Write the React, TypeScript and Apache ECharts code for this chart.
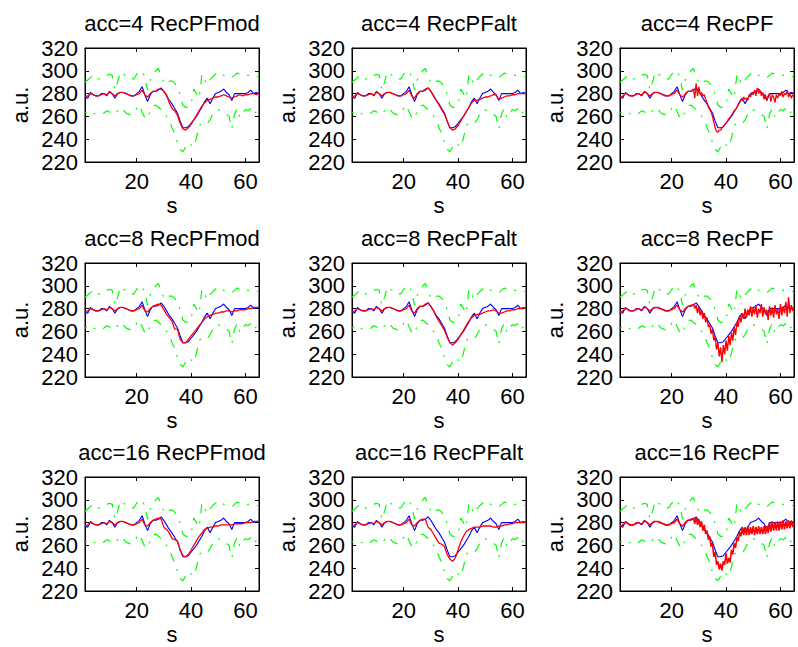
import React, { useEffect, useRef } from "react";
import * as echarts from "echarts";

// ---------- data ----------
const X_MIN = 1;
const X_MAX = 65;
const X_TICKS = [20, 40, 60];
const Y_MIN = 220;
const Y_MAX = 320;
const Y_STEP = 20;

const titles = [
  "acc=4 RecPFmod", "acc=4 RecPFalt", "acc=4 RecPF",
  "acc=8 RecPFmod", "acc=8 RecPFalt", "acc=8 RecPF",
  "acc=16 RecPFmod", "acc=16 RecPFalt", "acc=16 RecPF",
];

// reference (blue), sampled at s = 1..65
const blue = [
  277, 276, 281, 279, 278, 278, 280, 280, 278, 282,
  280, 276, 280, 281, 281, 280, 279, 278, 278, 280,
  282, 286, 279, 273, 279, 282, 282, 283, 285, 282,
  278, 274, 271, 267, 263, 256, 250, 250, 251, 254,
  257, 260, 264, 268, 273, 276, 271, 276, 280, 281,
  282, 284, 281, 279, 274, 280, 280, 280, 280, 280,
  281, 283, 280, 281, 280,
];

// green dash-dot envelope, s = 1..65
const greenUpper = [
  290, 292, 294, 296, 293, 293, 293, 295, 296, 297,
  296, 283, 290, 299, 297, 296, 293, 293, 293, 297,
  299, 300, 294, 283, 292, 296, 300, 302, 295, 290,
  288, 291, 291, 289, 286, 279, 270, 268, 268, 270,
  284, 280, 276, 297, 292, 288, 292, 295, 297, 299,
  298, 296, 295, 295, 294, 296, 298, 297, 297, 296,
  296, 296, 295, 295, 295,
];
const greenLower = [
  263, 264, 265, 263, 262, 261, 262, 263, 265, 264,
  262, 262, 265, 268, 266, 263, 262, 261, 263, 267,
  270, 264, 259, 258, 265, 269, 270, 268, 266, 264,
  260, 257, 250, 245, 237, 231, 229, 233, 237, 235,
  233, 241, 252, 254, 253, 254, 257, 262, 265, 266,
  264, 263, 262, 260, 249, 262, 267, 259, 263, 266,
  265, 267, 262, 264, 267,
];

// reconstructions (red)
const redMod4 = [
  277, 278, 280, 279, 278, 278, 279, 280, 279, 281,
  280, 278, 280, 281, 281, 280, 279, 278, 278, 279,
  280, 283, 279, 277, 280, 282, 282, 284, 284, 282,
  279, 272, 267, 265, 261, 254, 249, 248, 250, 253,
  257, 261, 265, 269, 272, 274, 275, 276, 277, 277,
  278, 279, 278, 277, 276, 277, 278, 279, 278, 279,
  279, 280, 280, 279, 280,
];
const redAlt4 = [
  277, 278, 280, 279, 278, 278, 279, 280, 279, 281,
  280, 278, 280, 281, 281, 280, 279, 278, 278, 279,
  280, 283, 278, 276, 280, 282, 282, 284, 285, 282,
  278, 274, 270, 266, 262, 256, 250, 248, 249, 252,
  256, 260, 264, 268, 272, 274, 274, 275, 276, 277,
  277, 278, 279, 279, 275, 276, 277, 278, 278, 279,
  279, 280, 280, 280, 280,
];
const redPF4 = [
  277, 277, 278, 279, 280, 280, 279, 278, 278, 278,
  278, 279, 279, 280, 280, 279, 279, 280, 281, 281,
  280, 279, 278, 279, 280, 281, 281, 281, 281, 280,
  280, 279, 279, 278, 278, 278, 278, 279, 279, 280,
  280, 282, 283, 281, 279, 278, 277, 278, 280, 281,
  282, 282, 282, 283,
  284, 276, 289, 278, 286, 279, 281, 278, 279, 275,
  272, 268, 266, 264, 260, 255, 250, 247, 246, 248,
  248, 250, 251, 253, 254, 256, 258, 259, 261, 263,
  265, 266, 268, 270, 272, 275, 274, 277, 275, 276,
  274, 279, 277, 281, 279, 283, 278, 285, 280, 283,
  278, 281, 275, 279, 274, 278, 280, 273, 279, 277,
  272, 279, 276, 280, 278, 282, 277, 280, 279, 283,
  277, 280, 276, 279, 277,
];
const redMod8 = [
  277, 278, 280, 279, 278, 278, 279, 280, 279, 281,
  280, 278, 280, 281, 281, 280, 279, 278, 278, 279,
  280, 283, 278, 277, 280, 282, 283, 284, 283, 279,
  275, 272, 269, 262, 262, 253, 250, 250, 253, 256,
  259, 262, 265, 268, 271, 273, 274, 275, 276, 276,
  277, 277, 278, 278, 277, 278, 278, 279, 279, 279,
  280, 280, 281, 281, 281,
];
const redAlt8 = [
  277, 278, 280, 279, 278, 278, 279, 280, 279, 281,
  280, 278, 280, 281, 281, 280, 279, 278, 278, 279,
  280, 283, 278, 276, 280, 282, 282, 284, 285, 282,
  278, 273, 269, 265, 261, 255, 250, 248, 250, 253,
  257, 261, 265, 269, 272, 274, 275, 275, 276, 277,
  278, 278, 279, 278, 276, 276, 277, 278, 278, 279,
  279, 280, 280, 280, 281,
];
const redPF8 = [
  277, 277, 278, 279, 280, 280, 279, 278, 278, 278,
  278, 279, 279, 280, 280, 279, 279, 280, 281, 281,
  280, 279, 278, 279, 280, 281, 281, 281, 281, 280,
  280, 279, 279, 278, 278, 278, 278, 279, 279, 280,
  280, 282, 283, 281, 279, 278, 277, 278, 280, 281,
  282, 282, 283, 283,
  284, 280, 283, 276, 282, 274, 279, 271, 276, 268,
  272, 264, 266, 258, 262, 252, 256, 244, 250, 238,
  246, 233, 248, 240, 252, 243, 256, 248, 259, 252,
  264, 257, 268, 264, 274, 268, 276, 271, 280, 272,
  279, 274, 282, 273, 281, 275, 283, 272, 280, 276,
  284, 273, 281, 275, 279, 270, 282, 274, 281, 272,
  283, 275, 280, 271, 284, 274, 282, 276, 286, 273,
  290, 276, 283, 278, 281,
];
const redMod16 = [
  277, 278, 280, 279, 278, 278, 279, 280, 279, 281,
  280, 278, 280, 281, 281, 280, 279, 278, 278, 279,
  280, 283, 278, 277, 280, 282, 283, 284, 283, 276,
  274, 271, 266, 265, 264, 256, 251, 250, 252, 256,
  260, 264, 268, 271, 274, 275, 276, 276, 277, 277,
  278, 278, 278, 278, 278, 279, 279, 279, 279, 280,
  280, 280, 281, 281, 281,
];
const redAlt16 = [
  277, 278, 280, 279, 278, 278, 279, 280, 279, 281,
  280, 278, 280, 281, 281, 280, 279, 278, 278, 279,
  280, 283, 278, 277, 280, 282, 283, 283, 276, 274,
  270, 266, 262, 261, 259, 252, 248, 246, 249, 256,
  263, 268, 272, 274, 275, 276, 276, 276, 277, 277,
  277, 277, 276, 276, 277, 277, 278, 278, 279, 279,
  280, 280, 280, 280, 280,
];
const redPF16 = [
  277, 277, 278, 279, 280, 280, 279, 278, 278, 278,
  278, 279, 279, 280, 280, 279, 279, 280, 281, 281,
  280, 279, 278, 279, 280, 281, 281, 281, 281, 280,
  280, 279, 279, 278, 278, 278, 278, 279, 279, 280,
  280, 282, 283, 281, 279, 278, 277, 278, 280, 281,
  282, 282, 283, 283,
  284, 279, 285, 278, 283, 276, 281, 273, 278, 270,
  273, 265, 268, 259, 262, 250, 254, 243, 246, 239,
  244, 238, 246, 243, 253, 244, 249, 245, 256, 252,
  262, 258, 267, 264, 272, 268, 276, 269, 276, 269,
  277, 269, 276, 270, 277, 269, 276, 270, 277, 270,
  276, 270, 277, 270, 277, 271, 280, 272, 281, 273,
  280, 273, 281, 273, 281, 274, 282, 274, 281, 275,
  282, 275, 282, 276, 280,
];

const reds = [
  redMod4, redAlt4, redPF4,
  redMod8, redAlt8, redPF8,
  redMod16, redAlt16, redPF16,
];
const redWidths = [1.3, 1.3, 1.3, 1.3, 1.3, 1.4, 1.3, 1.3, 1.6];

// ---------- layout ----------
const COL_LEFT = [85, 352, 620];
const ROW_TOP = [48, 263, 477];
const PW = 174;
const PH = 114;
const FONT = "'Liberation Sans', Arial, Helvetica, sans-serif";
const FS = 22;

function pairs(arr: number[]) {
  const n = arr.length;
  return arr.map((v, i) => [X_MIN + (i * (X_MAX - X_MIN)) / (n - 1), v]);
}

export default function App() {
  const ref = useRef<HTMLDivElement>(null);

  useEffect(() => {
    if (!ref.current) return;
    const chart = echarts.init(ref.current, undefined, { renderer: "svg" });

    const grids: any[] = [];
    const xAxes: any[] = [];
    const yAxes: any[] = [];
    const series: any[] = [];
    const graphics: any[] = [];

    titles.forEach((title, k) => {
      const r = Math.floor(k / 3);
      const c = k % 3;
      const left = COL_LEFT[c];
      const top = ROW_TOP[r];
      grids.push({
        left, top, width: PW, height: PH,
        show: true, borderColor: "#000", borderWidth: 1, backgroundColor: "#fff",
        containLabel: false, outerBoundsMode: "none",
      });
      const tick = { inside: true, length: 4, lineStyle: { color: "#000", width: 1 } };
      xAxes.push({
        type: "value", gridIndex: k, min: X_MIN, max: X_MAX, position: "bottom",
        axisLine: { show: true, lineStyle: { color: "#000", width: 1 } },
        axisTick: { ...tick, customValues: X_TICKS },
        axisLabel: { customValues: X_TICKS, fontSize: FS, color: "#000", fontFamily: FONT, margin: 8 },
        splitLine: { show: false },
      });
      xAxes.push({
        type: "value", gridIndex: k, min: X_MIN, max: X_MAX, position: "top",
        axisLine: { show: true, lineStyle: { color: "#000", width: 1 } },
        axisTick: { ...tick, customValues: X_TICKS },
        axisLabel: { show: false },
        splitLine: { show: false },
      });
      yAxes.push({
        type: "value", gridIndex: k, min: Y_MIN, max: Y_MAX, interval: Y_STEP, position: "left",
        axisLine: { show: true, lineStyle: { color: "#000", width: 1 } },
        axisTick: tick,
        axisLabel: { fontSize: FS, color: "#000", fontFamily: FONT, margin: 7, showMinLabel: true, showMaxLabel: true },
        splitLine: { show: false },
      });
      yAxes.push({
        type: "value", gridIndex: k, min: Y_MIN, max: Y_MAX, interval: Y_STEP, position: "right",
        axisLine: { show: true, lineStyle: { color: "#000", width: 1 } },
        axisTick: tick,
        axisLabel: { show: false },
        splitLine: { show: false },
      });
      const xi = 2 * k;
      const yi = 2 * k;
      const common = { type: "line", xAxisIndex: xi, yAxisIndex: yi, showSymbol: false, symbol: "none", silent: true, clip: true };
      const dashDot = [9, 8, 2, 8];
      series.push({ ...common, data: pairs(greenUpper), lineStyle: { color: "#00ff00", width: 1.2, type: dashDot } });
      series.push({ ...common, data: pairs(greenLower), lineStyle: { color: "#00ff00", width: 1.2, type: dashDot, dashOffset: 7 } });
      series.push({ ...common, data: pairs(blue), lineStyle: { color: "#0000ff", width: 1.1 } });
      series.push({ ...common, data: pairs(reds[k]), lineStyle: { color: "#ff0000", width: redWidths[k] } });

      const cx = left + PW / 2;
      graphics.push({
        type: "text", x: cx, y: top - 25,
        style: { text: title, fontSize: FS, fontFamily: FONT, fill: "#000", align: "center", verticalAlign: "middle", textAlign: "center", textVerticalAlign: "middle" },
      });
      graphics.push({
        type: "text", x: cx, y: top + PH + 43,
        style: { text: "s", fontSize: FS, fontFamily: FONT, fill: "#000", align: "center", verticalAlign: "middle", textAlign: "center", textVerticalAlign: "middle" },
      });
      graphics.push({
        type: "text", x: left - 65, y: top + PH / 2, rotation: Math.PI / 2,
        style: { text: "a.u.", fontSize: FS, fontFamily: FONT, fill: "#000", align: "center", verticalAlign: "middle", textAlign: "center", textVerticalAlign: "middle" },
      });
    });

    chart.setOption({
      animation: false,
      backgroundColor: "#fff",
      grid: grids,
      xAxis: xAxes,
      yAxis: yAxes,
      series,
      graphic: graphics,
    });

    return () => chart.dispose();
  }, []);

  return (
    <div
      ref={ref}
      style={{ position: "absolute", left: 0, top: 0, width: 798, height: 647, background: "#fff" }}
    />
  );
}
